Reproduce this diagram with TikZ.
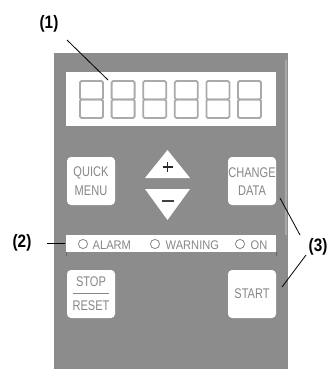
\documentclass[tikz,border=0pt]{standalone}
\usepackage{fontspec}
\setmainfont{Liberation Sans}
\begin{document}
\begin{tikzpicture}[x=1pt,y=-1pt,
  panelfill/.style={fill=panelgray,draw=none},
  whitebox/.style={fill=white,draw=none},
  keybox/.style={fill=white,draw=none,rounded corners=4pt},
  keytext/.style={text=keygray,font=\fontsize{14}{14}\selectfont,inner sep=0pt,xscale=0.79},
  ledtext/.style={text=keygray,font=\fontsize{12.5}{12.5}\selectfont,inner sep=0pt,anchor=west,xscale=0.89},
  callout/.style={font=\bfseries\fontsize{18}{18}\selectfont,inner sep=0pt,xscale=0.85},
  leader/.style={draw=black,line width=0.8pt},
  seg/.style={draw=seggray,line width=1.8pt,rounded corners=1.5pt},
  led/.style={draw=keygray,line width=0.8pt,fill=white}
]
\definecolor{panelgray}{RGB}{140,140,140}
\definecolor{keygray}{RGB}{135,135,135}
\definecolor{seggray}{RGB}{170,170,170}
\useasboundingbox (0,0) rectangle (331,369);
% panel
\path[panelfill] (54,53) rectangle (288,369);
\draw[white!25!panelgray,line width=2pt] (286,60) -- (286,235);
% display
\path[whitebox] (66,72) rectangle (276,126);
\foreach \i in {0,...,5}{
  \draw[seg] ({80+31.6*\i},81) rectangle ({103+31.6*\i},99.5);
  \draw[seg] ({80+31.6*\i},99.5) rectangle ({103+31.6*\i},118);
}
\coordinate (disppt) at (108,80);
% keys
\path[keybox] (67,157) rectangle (115,205);
\node[keytext] (quick) at (91,173) {QUICK};
\node[keytext] (menu) at (91,191) {MENU};
\path[keybox] (228,157) rectangle (276,205);
\node[keytext] (change) at (252,173) {CHANGE};
\node[keytext] (data) at (252,191) {DATA};
\path[keybox] (67,270) rectangle (115,318);
\node[keytext] (stop) at (91,282) {STOP};
\draw[keygray,line width=1pt] (73,293.5) -- (109,293.5);
\node[keytext] (reset) at (91,306) {RESET};
\path[keybox] (228,270) rectangle (276,318);
\node[keytext] (start) at (252,294) {START};
% arrow keys
\path[fill=white] (167.5,150) -- (190,178) -- (145,178) -- cycle;
\draw[black!85,line width=1.8pt] (162.5,167) -- (172.5,167) (167.5,162) -- (167.5,172);
\path[fill=white] (145,189) -- (190,189) -- (167.5,220) -- cycle;
\draw[black!75,line width=1.8pt] (161.5,201) -- (173.5,201);
% LED strip
\path[whitebox] (66,235) rectangle (276,252);
\draw[black!60,line width=0.6pt] (66,252) -- (66,256) (276,252) -- (276,256);
\draw[led] (83,244) circle (4.6);
\node[ledtext] (alarm) at (92.5,245) {ALARM};
\draw[led] (155,244) circle (4.6);
\node[ledtext] (warning) at (165.5,245) {WARNING};
\draw[led] (240,244) circle (4.6);
\node[ledtext] (on) at (250.5,245) {ON};
\coordinate (ledleft) at (65,243);
% callouts
\node[callout] (c1) at (49,24) {(1)};
\node[callout] (c2) at (22,243) {(2)};
\node[callout] (c3) at (318,247) {(3)};
\draw[leader] (67,40) -- (disppt);
\draw[leader] (47,243) -- (ledleft);
\coordinate (cd) at (280,198);
\coordinate (st) at (282,287);
\draw[leader] (300,235) -- (cd);
\draw[leader] (306,255) -- (st);
\end{tikzpicture}
\end{document}
